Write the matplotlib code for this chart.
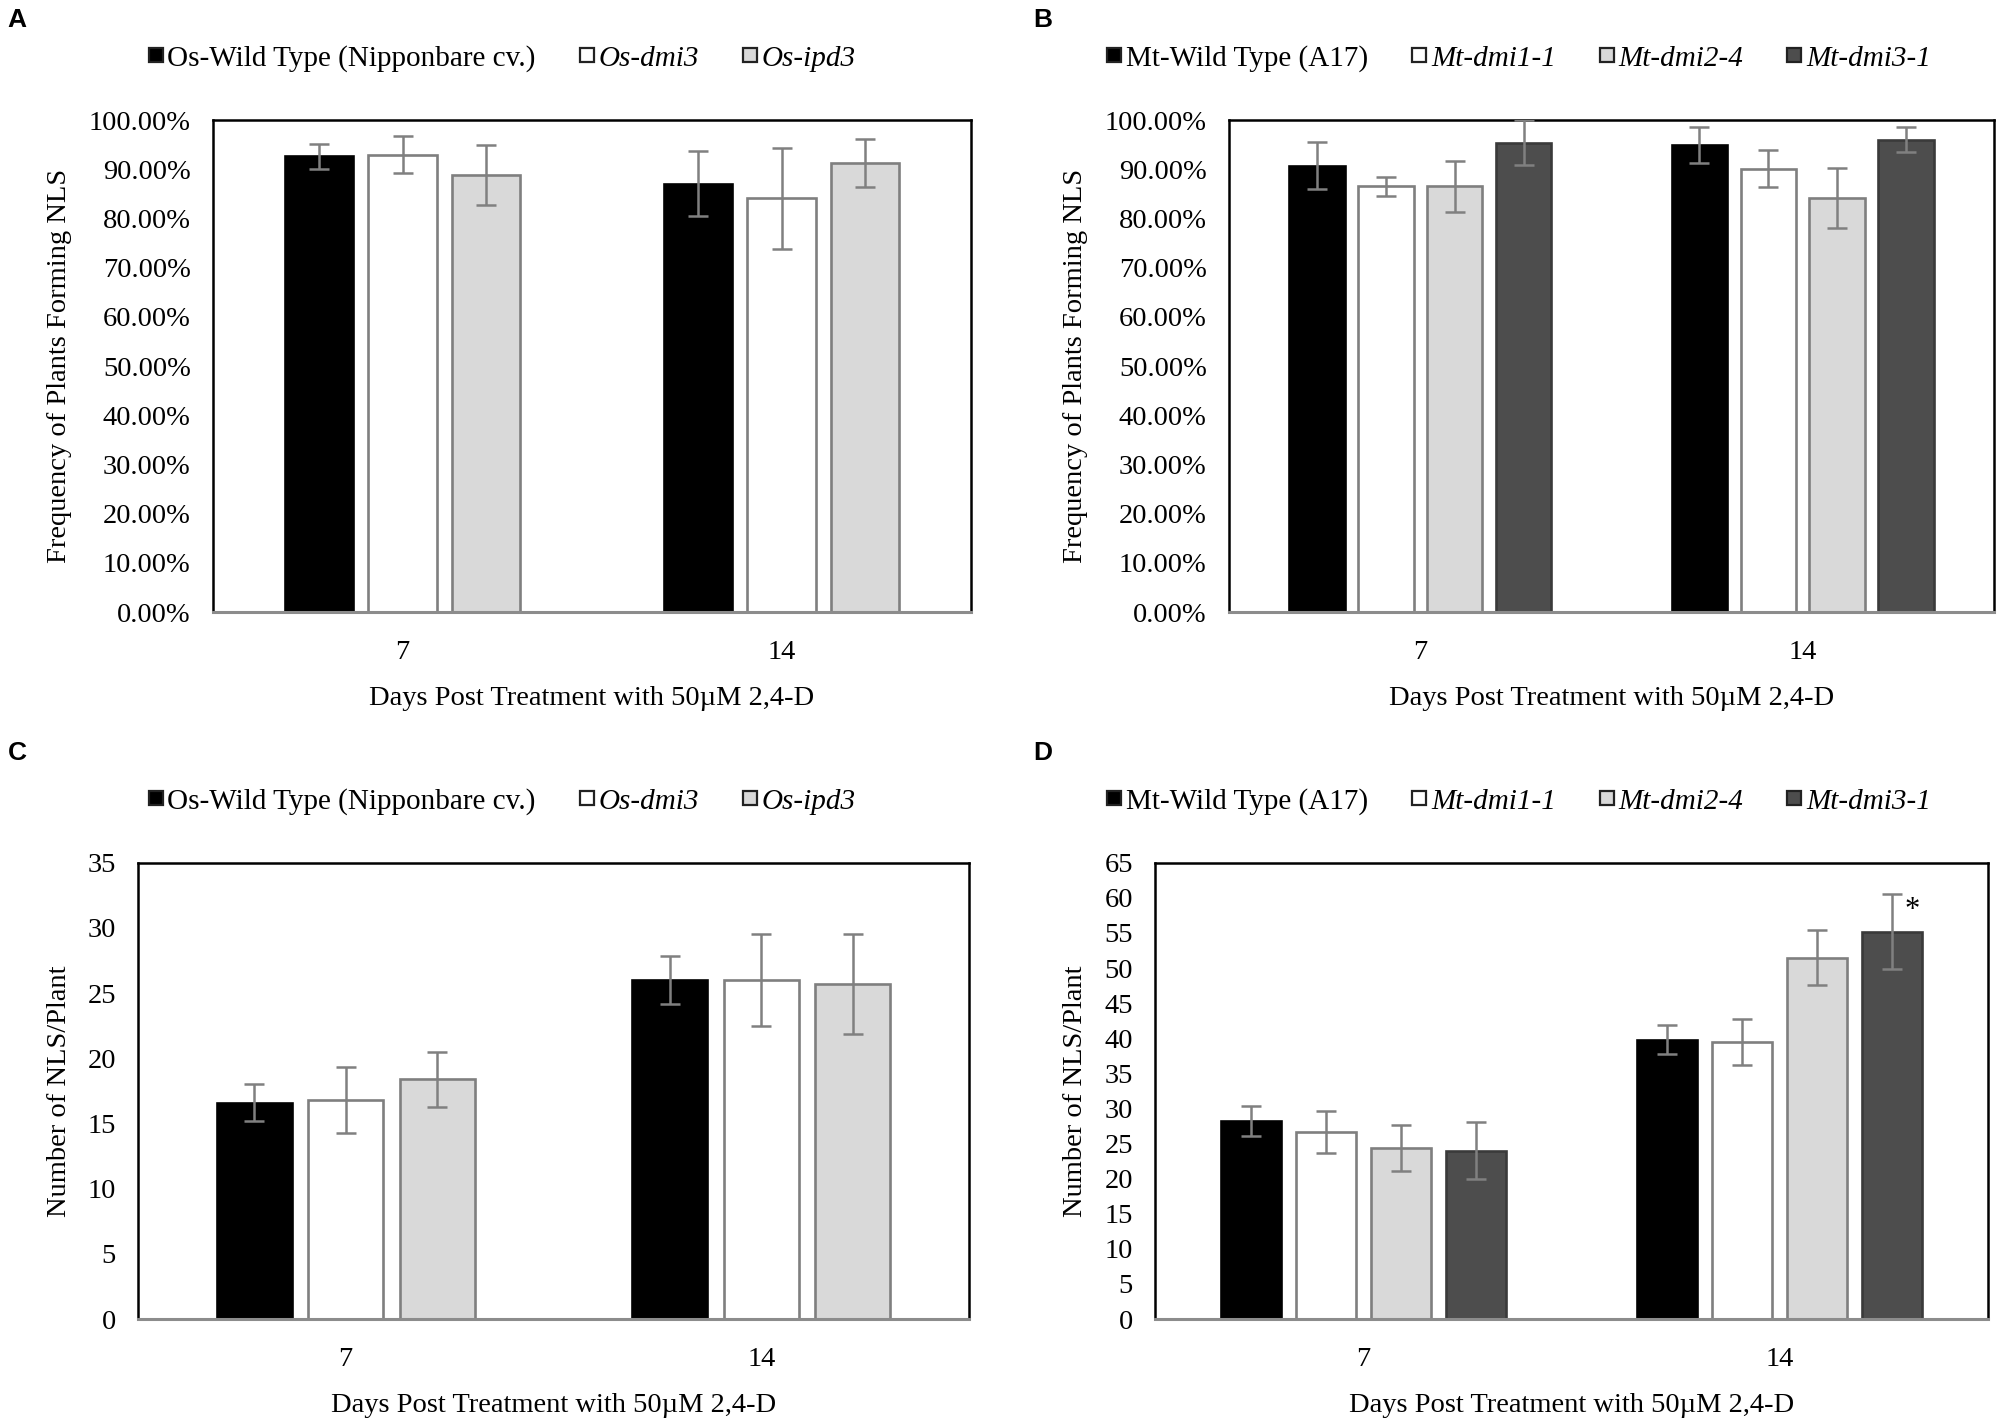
import matplotlib.pyplot as plt
import numpy as np
from matplotlib.lines import Line2D
from matplotlib.ticker import PercentFormatter, MultipleLocator

plt.rcParams['font.family'] = ['Liberation Serif', 'DejaVu Serif']
plt.rcParams['font.size'] = 20.5

# === Data === #
days = ['7', '14']

os_names = ['Os-Wild Type (Nipponbare cv.)', 'Os-dmi3', 'Os-ipd3']
mt_names = ['Mt-Wild Type (A17)', 'Mt-dmi1-1', 'Mt-dmi2-4', 'Mt-dmi3-1']

# A: frequency of rice plants forming NLS (%)
a_wt = [92.6, 87.1]
a_dmi3 = [93.0, 84.1]
a_ipd3 = [88.9, 91.3]
a_wt_err = [2.6, 6.6]
a_dmi3_err = [3.8, 10.3]
a_ipd3_err = [6.1, 4.9]

# B: frequency of Medicago plants forming NLS (%)
b_wt = [90.7, 94.9]
b_dmi1 = [86.5, 90.1]
b_dmi2 = [86.5, 84.2]
b_dmi3 = [95.4, 96.0]
b_wt_err = [4.8, 3.6]
b_dmi1_err = [2.0, 3.8]
b_dmi2_err = [5.1, 6.1]
b_dmi3_err = [4.6, 2.5]

# C: number of NLS per rice plant
c_wt = [16.6, 26.0]
c_dmi3 = [16.8, 26.0]
c_ipd3 = [18.4, 25.7]
c_wt_err = [1.4, 1.85]
c_dmi3_err = [2.5, 3.5]
c_ipd3_err = [2.1, 3.8]

# D: number of NLS per Medicago plant
d_wt = [28.2, 39.8]
d_dmi1 = [26.6, 39.5]
d_dmi2 = [24.4, 51.5]
d_dmi3 = [24.0, 55.2]
d_wt_err = [2.1, 2.1]
d_dmi1_err = [3.0, 3.3]
d_dmi2_err = [3.3, 3.9]
d_dmi3_err = [4.0, 5.3]

fills = ['#000000', '#ffffff', '#d9d9d9', '#4d4d4d']
edges = ['#000000', '#7f7f7f', '#7f7f7f', '#3a3a3a']
x_title = 'Days Post Treatment with 50\u00b5M 2,4-D'


def draw_panel(ax, means, errs, names, leg_xy, ymax, ystep, ylabel, ylab_x, xlab_y):
    n = len(means)
    x = np.arange(len(days))
    if n == 3:
        width, step = 0.18, 0.22
    else:
        width, step = 0.145, 0.18
    for i, (m, e) in enumerate(zip(means, errs)):
        pos = x + (i - (n - 1) / 2) * step
        ax.bar(pos, m, width, color=fills[i], edgecolor=edges[i], linewidth=1.9, zorder=2)
        ax.errorbar(pos, m, yerr=e, fmt='none', ecolor='#808080', elinewidth=1.8,
                    capsize=7, capthick=1.8, zorder=3)
    ax.set_xlim(-0.5, 1.5)
    ax.set_ylim(0, ymax)
    ax.set_xticks(x)
    ax.set_xticklabels(days)
    ax.yaxis.set_major_locator(MultipleLocator(ystep))
    ax.tick_params(length=0, labelsize=20.5)
    ax.tick_params(axis='y', pad=16)
    ax.tick_params(axis='x', pad=20)
    for side in ['top', 'left', 'right']:
        ax.spines[side].set_color('black')
        ax.spines[side].set_linewidth(1.8)
    ax.spines['bottom'].set_color('#8c8c8c')
    ax.spines['bottom'].set_linewidth(2.2)
    ax.set_ylabel(ylabel, fontsize=20.5, va='center')
    ax.yaxis.set_label_coords(ylab_x, 0.5)
    ax.set_xlabel(x_title, fontsize=20.5, va='center')
    ax.xaxis.set_label_coords(0.5, xlab_y)

    handles = [Line2D([], [], marker='s', linestyle='none', markersize=10,
                      markerfacecolor=fills[i], markeredgecolor='#222222',
                      markeredgewidth=1.6) for i in range(n)]
    leg = ax.legend(handles, names, loc='center', bbox_to_anchor=leg_xy,
                    bbox_transform=fig.transFigure, ncol=n, frameon=False,
                    handlelength=0.5, handletextpad=0.15, columnspacing=1.5,
                    fontsize=21)
    for t in leg.get_texts()[1:]:
        t.set_fontstyle('italic')


fig = plt.figure(figsize=(20, 14.26), dpi=100)
ax_a = fig.add_axes([0.1065, 0.5708, 0.379, 0.345])
ax_b = fig.add_axes([0.6145, 0.5708, 0.3825, 0.345])
ax_c = fig.add_axes([0.069, 0.075, 0.4155, 0.32])
ax_d = fig.add_axes([0.5775, 0.075, 0.4165, 0.32])

draw_panel(ax_a, [a_wt, a_dmi3, a_ipd3], [a_wt_err, a_dmi3_err, a_ipd3_err],
           os_names, (0.251, 0.959), 100, 10, 'Frequency of Plants Forming NLS', -0.202, -0.175)
ax_a.yaxis.set_major_formatter(PercentFormatter(100, decimals=2))

draw_panel(ax_b, [b_wt, b_dmi1, b_dmi2, b_dmi3], [b_wt_err, b_dmi1_err, b_dmi2_err, b_dmi3_err],
           mt_names, (0.7595, 0.959), 100, 10, 'Frequency of Plants Forming NLS', -0.201, -0.175)
ax_b.yaxis.set_major_formatter(PercentFormatter(100, decimals=2))

draw_panel(ax_c, [c_wt, c_dmi3, c_ipd3], [c_wt_err, c_dmi3_err, c_ipd3_err],
           os_names, (0.251, 0.438), 35, 5, 'Number of NLS/Plant', -0.094, -0.189)

draw_panel(ax_d, [d_wt, d_dmi1, d_dmi2, d_dmi3], [d_wt_err, d_dmi1_err, d_dmi2_err, d_dmi3_err],
           mt_names, (0.7595, 0.438), 65, 5, 'Number of NLS/Plant', -0.096, -0.189)

# significance mark on Mt-dmi3-1 at 14 days
ax_d.annotate('*', (1 + 1.5 * 0.18, d_dmi3[1] + d_dmi3_err[1]), textcoords='offset points',
              xytext=(14, -12), ha='center', va='center', fontsize=22)

# panel letters
for letter, (lx, ly) in zip('ABCD', [(0.0085, 0.986), (0.5215, 0.986),
                                      (0.0085, 0.472), (0.5215, 0.472)]):
    fig.text(lx, ly, letter, fontsize=19, fontweight='bold', ha='center', va='center',
             family=['Liberation Sans', 'DejaVu Sans'])

fig.savefig('out.png', dpi=100)
